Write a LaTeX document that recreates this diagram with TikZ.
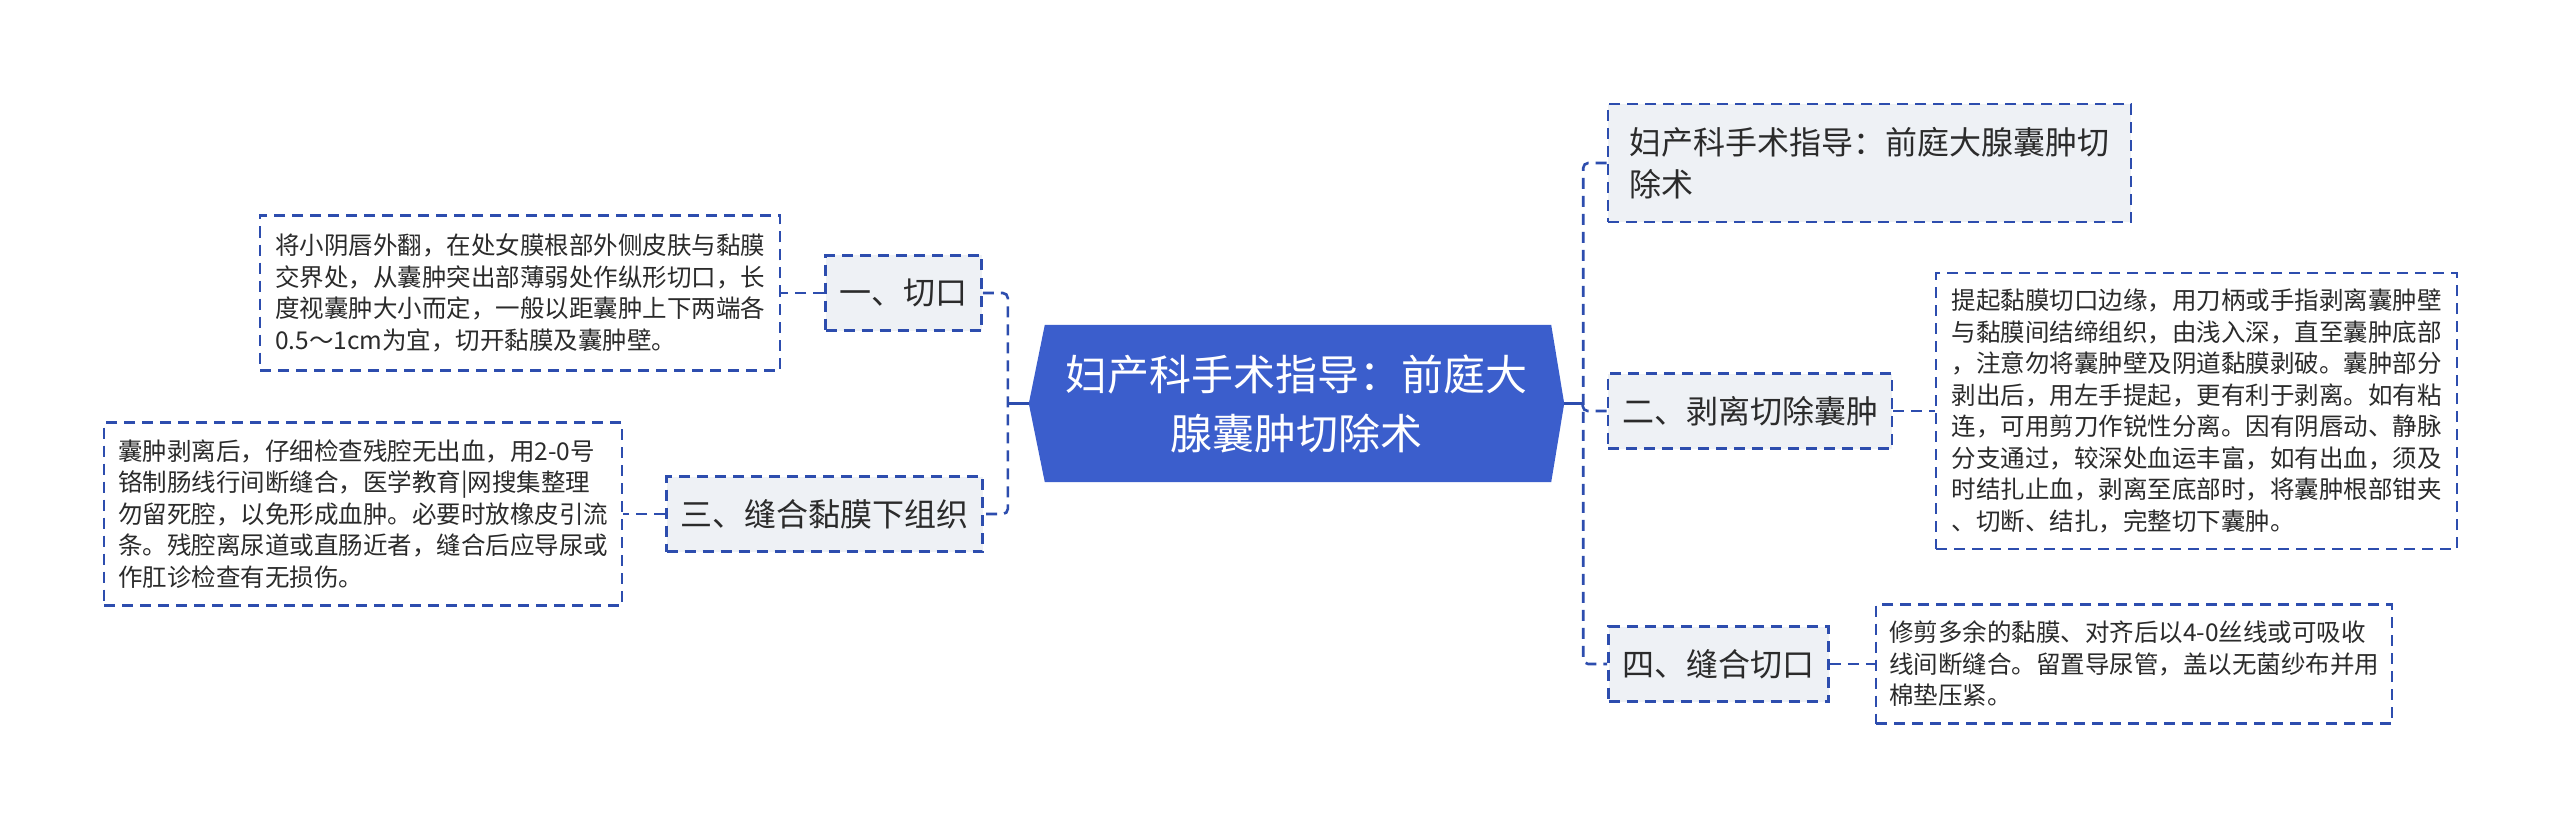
\documentclass[tikz,border=0pt]{standalone}
\usepackage{fontspec}
\setmainfont{Noto Sans CJK SC}
\usetikzlibrary{backgrounds}
\definecolor{rootblue}{HTML}{3B5ECC}
\definecolor{linkblue}{HTML}{2D4DAE}
\definecolor{topicgray}{HTML}{EEF1F5}
\definecolor{inkgray}{HTML}{2B2B2B}
\begin{document}
\begin{tikzpicture}[x=1pt,y=-1pt,
  rootbox/.style={text=white, align=center, inner sep=0pt, minimum width=535pt, minimum height=157pt, font=\fontsize{42}{59}\selectfont},
  topic/.style={draw=linkblue, dash pattern=on 11pt off 7pt, line width=2.6pt, fill=topicgray, text=inkgray, inner xsep=14pt, minimum height=75pt, font=\fontsize{32}{42}\selectfont},
  leaf/.style={draw=linkblue, dash pattern=on 11pt off 7pt, line width=2.6pt, fill=white, text=inkgray, align=left, font=\fontsize{24.5}{31.5}\selectfont},
  link/.style={draw=linkblue, dash pattern=on 11pt off 7pt, line width=2.6pt, rounded corners=5pt},
  trunk/.style={draw=linkblue, line width=3.2pt}]
\useasboundingbox (0,0) rectangle (2560,829);
% centre
\node[rootbox] (root) at (1296.5,403.5) {妇产科手术指导：前庭大\\腺囊肿切除术};
\begin{scope}[on background layer]
\fill[white] (0,0) rectangle (2560,829);
\fill[rootblue] (root.west) -- ([xshift=16pt]root.north west) -- ([xshift=-13pt]root.north east) -- (root.east) -- ([xshift=-13pt]root.south east) -- ([xshift=16pt]root.south west) -- cycle;
\end{scope}
% left side
\node[topic] (c1) at (903.5,293) {一、切口};
\node[topic] (c3) at (824.5,514) {三、缝合黏膜下组织};
\node[leaf, minimum width=520pt, minimum height=155pt] (l1) at (520,293) {将小阴唇外翻，在处女膜根部外侧皮肤与黏膜\\交界处，从囊肿突出部薄弱处作纵形切口，长\\度视囊肿大小而定，一般以距囊肿上下两端各\\0.5～1cm为宜，切开黏膜及囊肿壁。};
\node[leaf, minimum width=518pt, minimum height=183pt] (l3) at (363,514) {囊肿剥离后，仔细检查残腔无出血，用2-0号\\铬制肠线行间断缝合，医学教育|网搜集整理\\勿留死腔，以免形成血肿。必要时放橡皮引流\\条。残腔离尿道或直肠近者，缝合后应导尿或\\作肛诊检查有无损伤。};
% right side
\node[topic, align=left, minimum width=523pt, minimum height=118pt] (b1) at (1869.5,163) {妇产科手术指导：前庭大腺囊肿切\\除术};
\node[topic] (b2) at (1750,411) {二、剥离切除囊肿};
\node[topic] (b4) at (1718.5,664) {四、缝合切口};
\node[leaf, minimum width=521pt, minimum height=276pt] (l2) at (2196.5,411) {提起黏膜切口边缘，用刀柄或手指剥离囊肿壁\\与黏膜间结缔组织，由浅入深，直至囊肿底部\\，注意勿将囊肿壁及阴道黏膜剥破。囊肿部分\\剥出后，用左手提起，更有利于剥离。如有粘\\连，可用剪刀作锐性分离。因有阴唇动、静脉\\分支通过，较深处血运丰富，如有出血，须及\\时结扎止血，剥离至底部时，将囊肿根部钳夹\\、切断、结扎，完整切下囊肿。};
\node[leaf, minimum width=516pt, minimum height=119pt] (l4) at (2134,664) {修剪多余的黏膜、对齐后以4-0丝线或可吸收\\线间断缝合。留置导尿管，盖以无菌纱布并用\\棉垫压紧。};
% connectors
\draw[trunk] (root.west) -- ([xshift=24pt]root.west -| c1.east);
\draw[link] (c1.east) -| ([xshift=24pt]c3.east) -- (c3.east);
\draw[trunk] (root.east) -- ([xshift=-24pt]root.east -| b2.west);
\draw[link] (b1.west) -| ([xshift=-24pt]b4.west) -- (b4.west);
\draw[link] ([xshift=-24pt]root.east -| b2.west) |- (b2.west);
\draw[link] (c1.west) -- (l1.east);
\draw[link] (c3.west) -- (l3.east);
\draw[link] (b2.east) -- (l2.west);
\draw[link] (b4.east) -- (l4.west);
\end{tikzpicture}
\end{document}
